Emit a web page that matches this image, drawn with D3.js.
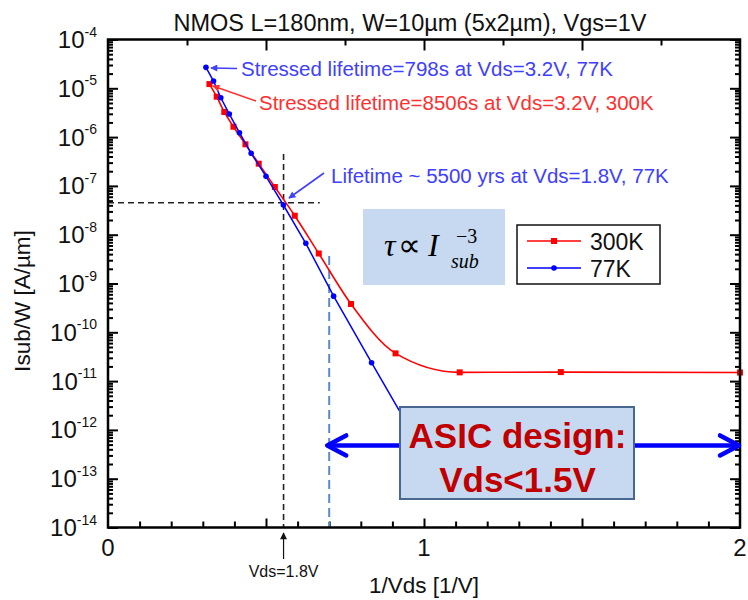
<!DOCTYPE html>
<html>
<head>
<meta charset="utf-8">
<script src="https://cdn.jsdelivr.net/npm/d3@7"></script>
<style>
  body { margin: 0; background: #fff; }
  svg { display: block; font-family: "Liberation Sans", Arial, sans-serif; }
  .serif { font-family: "Liberation Serif", "Times New Roman", serif; }
</style>
</head>
<body>
<svg id="chart" width="748" height="600"></svg>
<script>
// Substrate current per width vs. inverse drain voltage
const invVds77  = [0.310, 0.334, 0.357, 0.384, 0.416, 0.453, 0.500, 0.555, 0.626, 0.714, 0.834, 1.000];
const isub77    = [2.69e-5, 1.41e-5, 6.4e-6, 2.97e-6, 1.23e-6, 4.66e-7, 1.57e-7, 4.06e-8, 6.67e-9, 5.5e-10, 2.38e-11, 3.3e-13];
const invVds300 = [0.321, 0.344, 0.368, 0.397, 0.435, 0.477, 0.528, 0.591, 0.667, 0.769, 0.910, 1.113, 1.433, 2.000];
const isub300   = [1.22e-5, 6.73e-6, 3.27e-6, 1.63e-6, 7.12e-7, 2.85e-7, 9.5e-8, 2.45e-8, 4.12e-9, 3.8e-10, 3.7e-11, 1.51e-11, 1.53e-11, 1.5e-11];
const seriesNames = ["300K", "77K"];
const xTickValues = [0, 1, 2];
const yExponents = [-4, -5, -6, -7, -8, -9, -10, -11, -12, -13, -14];

// Operating point (Vds = 1.8 V) and ASIC design limit
const opInv = 1 / 1.8;
const opIsub = 4.5e-8;
const opIsubTop = 4.5e-7;
const opHorizEnd = 0.67;
const asicInv = 0.70;
const asicIsubTop = 3.66e-9;
const asicArrowIsub = 4.8e-13;

const svg = d3.select("#chart");
const x = d3.scaleLinear().domain([0, 2]).range([108, 740]);
const y = d3.scaleLog().domain([1e-14, 1e-4]).range([527.5, 39.5]);
const [x0, x1] = x.range();
const [yb, yt] = y.range();

// ---- axes ticks ----
const minorY = [];
const majorY = yExponents.map(e => Math.pow(10, e));
for (let e = -14; e < -4; e++) for (let m = 2; m <= 9; m++) minorY.push(m * Math.pow(10, e));

function styleTicks(g) {
  g.select(".domain").remove();
  g.selectAll("line").attr("stroke", "#000").attr("stroke-width", 2);
  g.selectAll("text").remove();
}
svg.append("g").attr("transform", `translate(${x0},0)`)
  .call(d3.axisLeft(y).tickValues(minorY).tickSize(-5)).call(styleTicks);
svg.append("g").attr("transform", `translate(${x0},0)`)
  .call(d3.axisLeft(y).tickValues(majorY).tickSize(-10)).call(styleTicks);
svg.append("g").attr("transform", `translate(${x1},0)`)
  .call(d3.axisRight(y).tickValues(minorY).tickSize(-5)).call(styleTicks);
svg.append("g").attr("transform", `translate(${x1},0)`)
  .call(d3.axisRight(y).tickValues(majorY).tickSize(-10)).call(styleTicks);

const bottomMinor = d3.range(1, 20).map(i => i / 10).filter(v => Math.abs(v * 2 - Math.round(v * 2)) > 1e-6);
const bottomMajor = [0.5, 1, 1.5];
svg.append("g").attr("transform", `translate(0,${yb})`)
  .call(d3.axisBottom(x).tickValues(bottomMinor).tickSize(-6)).call(styleTicks);
svg.append("g").attr("transform", `translate(0,${yb})`)
  .call(d3.axisBottom(x).tickValues(bottomMajor).tickSize(-9)).call(styleTicks);
svg.append("g").attr("transform", `translate(0,${yt})`)
  .call(d3.axisTop(x).tickValues([0.25, 0.75, 1.25, 1.75]).tickSize(-6)).call(styleTicks);
svg.append("g").attr("transform", `translate(0,${yt})`)
  .call(d3.axisTop(x).tickValues([0.5, 1, 1.5]).tickSize(-11)).call(styleTicks);

// ---- tick labels ----
const yLab = svg.append("g");
yExponents.forEach(e => {
  const t = yLab.append("text")
    .attr("x", 97).attr("y", y(Math.pow(10, e)) + 8.5)
    .attr("text-anchor", "end").attr("font-size", 24).attr("fill", "#111");
  t.append("tspan").text("10");
  t.append("tspan").attr("dy", -11.5).attr("font-size", 14).text("-" + Math.abs(e));
});
svg.append("g").selectAll("text").data(xTickValues).join("text")
  .attr("x", d => x(d)).attr("y", 556)
  .attr("text-anchor", "middle").attr("font-size", 24).attr("fill", "#111")
  .text(d => d);

// ---- titles ----
svg.append("text").attr("x", 410).attr("y", 31).attr("text-anchor", "middle")
  .attr("font-size", 23.5).attr("fill", "#111")
  .text("NMOS L=180nm, W=10µm (5x2µm), Vgs=1V");
svg.append("text").attr("transform", "translate(30,301) rotate(-90)")
  .attr("text-anchor", "middle").attr("font-size", 22.5).attr("fill", "#111")
  .text("Isub/W [A/µm]");
svg.append("text").attr("x", 424).attr("y", 593).attr("text-anchor", "middle")
  .attr("font-size", 22.5).attr("fill", "#111")
  .text("1/Vds [1/V]");

// ---- reference lines ----
svg.append("line")
  .attr("x1", x(opInv)).attr("x2", x(opInv)).attr("y1", y(opIsubTop)).attr("y2", yb)
  .attr("stroke", "#222").attr("stroke-width", 1.6).attr("stroke-dasharray", "6,4");
svg.append("line")
  .attr("x1", x0).attr("x2", x(opHorizEnd)).attr("y1", y(opIsub)).attr("y2", y(opIsub))
  .attr("stroke", "#222").attr("stroke-width", 1.6).attr("stroke-dasharray", "6,4");
svg.append("line")
  .attr("x1", x(asicInv)).attr("x2", x(asicInv)).attr("y1", y(asicIsubTop)).attr("y2", yb)
  .attr("stroke", "#5b8bc6").attr("stroke-width", 2).attr("stroke-dasharray", "9,5");

// ---- data series ----
const d300 = invVds300.map((v, i) => [v, isub300[i]]);
const d77 = invVds77.map((v, i) => [v, isub77[i]]);

svg.append("path").datum(d300)
  .attr("d", d3.line().x(d => x(d[0])).y(d => y(d[1])).curve(d3.curveMonotoneX))
  .attr("fill", "none").attr("stroke", "#ff0000").attr("stroke-width", 1.6);
svg.append("g").selectAll("rect").data(d300).join("rect")
  .attr("x", d => x(d[0]) - 3).attr("y", d => y(d[1]) - 3)
  .attr("width", 6).attr("height", 6).attr("fill", "#ff0000");

svg.append("path").datum(d77)
  .attr("d", d3.line().x(d => x(d[0])).y(d => y(d[1])))
  .attr("fill", "none").attr("stroke", "#0000ff").attr("stroke-width", 1.5);
svg.append("g").selectAll("circle").data(d77).join("circle")
  .attr("cx", d => x(d[0])).attr("cy", d => y(d[1])).attr("r", 2.8)
  .attr("fill", "#0000ff");

// ---- frame ----
svg.append("rect").attr("x", x0).attr("y", yt).attr("width", x1 - x0).attr("height", yb - yt)
  .attr("fill", "none").attr("stroke", "#000").attr("stroke-width", 2.5);

// ---- arrow markers ----
const defs = svg.append("defs");
[["headBlue", "#4040ff"], ["headRed", "#ff3030"], ["headBlack", "#111"]].forEach(([id, c]) => {
  defs.append("marker").attr("id", id).attr("viewBox", "0 0 10 10")
    .attr("refX", 9).attr("refY", 5).attr("markerWidth", 9).attr("markerHeight", 7)
    .attr("markerUnits", "userSpaceOnUse").attr("orient", "auto")
    .append("path").attr("d", "M0,0 L10,5 L0,10 Z").attr("fill", c);
});

// ---- annotations ----
const notes = [
  { text: "Stressed lifetime=798s at Vds=3.2V, 77K", tx: 241, ty: 76, color: "#4040ff",
    from: [237, 68.5], to: [211, 68], head: "headBlue" },
  { text: "Stressed lifetime=8506s at Vds=3.2V, 300K", tx: 259, ty: 110, color: "#ff3030",
    from: [256, 101], to: [213, 86], head: "headRed" },
  { text: "Lifetime ~ 5500 yrs at Vds=1.8V, 77K", tx: 331, ty: 183, color: "#4040ff",
    from: [324, 173], to: [289, 198], head: "headBlue" }
];
notes.forEach(n => {
  svg.append("line").attr("x1", n.from[0]).attr("y1", n.from[1])
    .attr("x2", n.to[0]).attr("y2", n.to[1])
    .attr("stroke", n.color).attr("stroke-width", 1.6).attr("marker-end", `url(#${n.head})`);
  svg.append("text").attr("x", n.tx).attr("y", n.ty).attr("font-size", 20.5)
    .attr("fill", n.color).text(n.text);
});

// Vds = 1.8 V marker below axis
svg.append("line").attr("x1", x(opInv)).attr("x2", x(opInv)).attr("y1", 559).attr("y2", 533)
  .attr("stroke", "#111").attr("stroke-width", 1.2).attr("marker-end", "url(#headBlack)");
svg.append("text").attr("x", x(opInv)).attr("y", 577).attr("text-anchor", "middle")
  .attr("font-size", 16).attr("fill", "#111").text("Vds=1.8V");

// ---- power-law formula box ----
svg.append("rect").attr("x", 363).attr("y", 209).attr("width", 142).attr("height", 76)
  .attr("fill", "#c6d9f0");
const formula = svg.append("g").attr("class", "serif").attr("fill", "#000");
formula.append("text").attr("x", 384).attr("y", 256)
  .attr("font-style", "italic").attr("font-size", 32).text("τ");
formula.append("text").attr("x", 398).attr("y", 256)
  .attr("font-size", 32).text("∝");
formula.append("text").attr("x", 428).attr("y", 256)
  .attr("font-style", "italic").attr("font-size", 32).text("I");
formula.append("text").attr("x", 451).attr("y", 268)
  .attr("font-style", "italic").attr("font-size", 20).text("sub");
formula.append("text").attr("x", 456).attr("y", 243)
  .attr("font-size", 20).text("−3");

// ---- legend ----
const leg = svg.append("g");
leg.append("rect").attr("x", 517).attr("y", 225).attr("width", 143).attr("height", 59)
  .attr("fill", "#fff").attr("stroke", "#111").attr("stroke-width", 1.5);
const legRows = [
  { name: seriesNames[0], color: "#ff0000", yy: 241, shape: "rect" },
  { name: seriesNames[1], color: "#0000ff", yy: 268, shape: "circle" }
];
legRows.forEach(r => {
  leg.append("line").attr("x1", 527).attr("x2", 581).attr("y1", r.yy).attr("y2", r.yy)
    .attr("stroke", r.color).attr("stroke-width", 1.6);
  if (r.shape === "rect") {
    leg.append("rect").attr("x", 551).attr("y", r.yy - 3).attr("width", 6).attr("height", 6).attr("fill", r.color);
  } else {
    leg.append("circle").attr("cx", 554).attr("cy", r.yy).attr("r", 2.8).attr("fill", r.color);
  }
  leg.append("text").attr("x", 590).attr("y", r.yy + 8.5).attr("font-size", 23)
    .attr("fill", "#111").text(r.name);
});

// ---- ASIC design range ----
const ay = y(asicArrowIsub);
const ax0 = x(asicInv) - 2, ax1 = x(2) - 1;
const arrowG = svg.append("g").attr("stroke", "#0000ff").attr("fill", "none")
  .attr("stroke-width", 4.5).attr("stroke-linecap", "round").attr("stroke-linejoin", "round");
arrowG.append("line").attr("x1", ax0 + 2).attr("x2", ax1 - 2).attr("y1", ay).attr("y2", ay);
arrowG.append("path").attr("d", `M${ax0 + 19},${ay - 10} L${ax0},${ay} L${ax0 + 19},${ay + 10}`);
arrowG.append("path").attr("d", `M${ax1 - 19},${ay - 10} L${ax1},${ay} L${ax1 - 19},${ay + 10}`);

svg.append("rect").attr("x", 400).attr("y", 407).attr("width", 234).attr("height", 92)
  .attr("fill", "#c6d9f0").attr("stroke", "#48688f").attr("stroke-width", 2);
svg.append("text").attr("x", 517.5).attr("y", 448).attr("text-anchor", "middle")
  .attr("font-size", 35).attr("font-weight", "bold").attr("fill", "#c00000").text("ASIC design:");
svg.append("text").attr("x", 517.5).attr("y", 492).attr("text-anchor", "middle")
  .attr("font-size", 35).attr("font-weight", "bold").attr("fill", "#c00000").text("Vds<1.5V");
</script>
</body>
</html>
